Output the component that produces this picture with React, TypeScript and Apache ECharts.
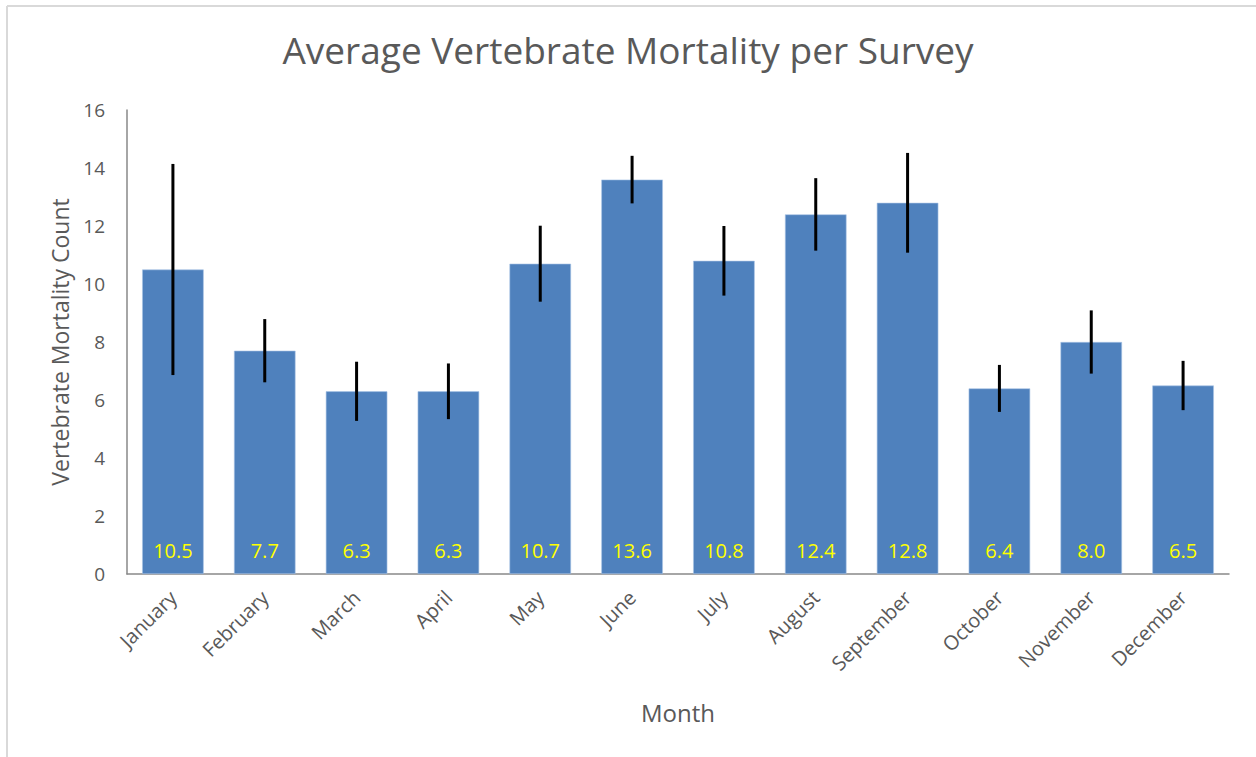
import React, { useEffect, useRef } from "react";
import * as echarts from "echarts";

const months = [
  "January", "February", "March", "April", "May", "June",
  "July", "August", "September", "October", "November", "December",
];
const meanValues = [10.5, 7.7, 6.3, 6.3, 10.7, 13.6, 10.8, 12.4, 12.8, 6.4, 8.0, 6.5];
const errorValues = [3.64, 1.09, 1.02, 0.96, 1.31, 0.82, 1.2, 1.25, 1.72, 0.81, 1.09, 0.85];
const yTicks = { min: 0, max: 16, interval: 2 };

const FONT = "Open Sans";
const GRAY = "#595959";

export default function App() {
  const ref = useRef<HTMLDivElement>(null);
  useEffect(() => {
    if (!ref.current) return;
    const chart = echarts.init(ref.current, null, { renderer: "svg" });
    const errData = months.map((m, i) => [i, meanValues[i] - errorValues[i], meanValues[i] + errorValues[i]]);
    chart.setOption({
      animation: false,
      backgroundColor: "#ffffff",
      textStyle: { fontFamily: FONT },
      title: {
        text: "Average Vertebrate Mortality per Survey",
        left: "center",
        top: 26,
        textStyle: { fontFamily: FONT, fontSize: 37, fontWeight: "normal", color: GRAY },
      },
      graphic: [
        { type: "line", shape: { x1: 7, y1: 6, x2: 1256, y2: 6 }, style: { stroke: "#d9d9d9", lineWidth: 2 } },
        { type: "line", shape: { x1: 7, y1: 6, x2: 7, y2: 757 }, style: { stroke: "#d9d9d9", lineWidth: 2 } },
      ],
      grid: { left: 127, right: 27, top: 110, bottom: 183, containLabel: false },
      xAxis: {
        type: "category",
        data: months,
        name: "Month",
        nameLocation: "middle",
        nameGap: 126,
        nameTextStyle: { fontFamily: FONT, fontSize: 24, color: GRAY },
        axisLine: { lineStyle: { color: "#898989", width: 1.5 } },
        axisTick: { show: false },
        axisLabel: { rotate: 45, fontFamily: FONT, fontSize: 20, color: GRAY, margin: 20, interval: 0 },
      },
      yAxis: {
        type: "value",
        min: yTicks.min,
        max: yTicks.max,
        interval: yTicks.interval,
        name: "Vertebrate Mortality Count",
        nameLocation: "middle",
        nameGap: 56,
        nameTextStyle: { fontFamily: FONT, fontSize: 23, color: GRAY },
        axisLine: { show: true, lineStyle: { color: "#898989", width: 1.5 } },
        axisTick: { show: false },
        splitLine: { show: false },
        axisLabel: { fontFamily: FONT, fontSize: 19, color: GRAY, margin: 22 },
      },
      series: [
        {
          type: "bar",
          data: meanValues,
          barCategoryGap: "33%",
          itemStyle: { color: "#4f81bd", borderColor: "#a9c4e6", borderWidth: 0.6 },
          label: {
            show: true,
            position: "insideBottom",
            distance: 14,
            formatter: (p: any) => Number(p.value).toFixed(1),
            color: "#ffff00",
            fontFamily: FONT,
            fontSize: 20,
          },
        },
        {
          type: "custom",
          data: errData,
          z: 10,
          renderItem: (params: any, api: any) => {
            const x = api.value(0);
            const lo = api.coord([x, api.value(1)]);
            const hi = api.coord([x, api.value(2)]);
            return {
              type: "line",
              shape: { x1: lo[0], y1: lo[1], x2: hi[0], y2: hi[1] },
              style: { stroke: "#000000", lineWidth: 3 },
            };
          },
        },
      ],
    });
    return () => chart.dispose();
  }, []);
  return (
    <div
      ref={ref}
      style={{ position: "fixed", left: 0, top: 0, width: 1256, height: 757 }}
    />
  );
}
